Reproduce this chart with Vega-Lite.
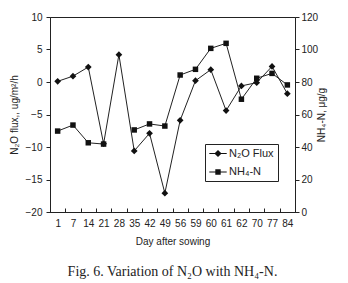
{
  "$schema": "https://vega.github.io/schema/vega-lite/v6.json",
  "width": 245,
  "height": 195,
  "autosize": {"type": "none"},
  "padding": {"left": 50, "top": 17, "right": 53, "bottom": 71},
  "background": "white",
  "config": {
    "font": "Liberation Sans",
    "view": {"stroke": "#222", "strokeWidth": 1},
    "axis": {
      "grid": false,
      "domainColor": "#222",
      "tickColor": "#222",
      "labelColor": "#222",
      "titleColor": "#222",
      "labelFontSize": 10,
      "titleFontSize": 10,
      "titleFontWeight": "normal",
      "labelFont": "Liberation Sans",
      "titleFont": "Liberation Sans"
    }
  },
  "title": {
    "text": "Fig. 6. Variation of N₂O with NH₄-N.",
    "orient": "bottom",
    "anchor": "middle",
    "font": "Liberation Serif",
    "fontSize": 14,
    "fontWeight": "normal",
    "color": "#222",
    "offset": 19
  },
  "data": {
    "values": [
      {"day": 1, "n2o": 0.1, "nh4": 49.8},
      {"day": 7, "n2o": 0.9, "nh4": 53.5},
      {"day": 14, "n2o": 2.3, "nh4": 42.6},
      {"day": 21, "n2o": -9.5, "nh4": 41.8},
      {"day": 28, "n2o": 4.2, "nh4": null},
      {"day": 35, "n2o": -10.6, "nh4": 50.5},
      {"day": 42, "n2o": -7.9, "nh4": 54.2},
      {"day": 49, "n2o": -17.1, "nh4": 52.9},
      {"day": 56, "n2o": -5.9, "nh4": 84.3},
      {"day": 59, "n2o": 0.2, "nh4": 87.8},
      {"day": 60, "n2o": 1.9, "nh4": 100.7},
      {"day": 61, "n2o": -4.4, "nh4": 103.8},
      {"day": 62, "n2o": -0.6, "nh4": 69.4},
      {"day": 70, "n2o": -0.1, "nh4": 82.3},
      {"day": 77, "n2o": 2.4, "nh4": 85.3},
      {"day": 84, "n2o": -1.8, "nh4": 78.2}
    ]
  },
  "encoding": {
    "x": {
      "field": "day",
      "type": "ordinal",
      "scale": {"type": "band", "paddingInner": 0, "paddingOuter": 0},
      "axis": {
        "title": "Day after sowing",
        "labelAngle": 0,
        "tickBand": "extent",
        "tickSize": -4,
        "labelPadding": 10,
        "titlePadding": 8
      }
    }
  },
  "layer": [
    {
      "encoding": {
        "y": {
          "field": "n2o",
          "type": "quantitative",
          "scale": {"domain": [-20, 10], "nice": false, "zero": false},
          "axis": {
            "orient": "left",
            "title": "N₂O flux,, ug/m²/h",
            "values": [-20, -15, -10, -5, 0, 5, 10],
            "labelOverlap": false,
            "tickSize": 4,
            "labelPadding": 4,
            "titlePadding": 6
          }
        }
      },
      "layer": [
        {"mark": {"type": "line", "color": "#222", "strokeWidth": 1}},
        {"mark": {"type": "point", "filled": true, "color": "#111", "opacity": 1, "size": 45, "shape": "diamond"}},
        {
          "mark": {"type": "point", "filled": true, "color": "#111", "opacity": 0, "size": 36},
          "encoding": {
            "shape": {
              "datum": "N₂O Flux",
              "type": "nominal",
              "scale": {
                "domain": ["N₂O Flux", "NH₄-N"],
                "range": [
                  "M-2.9,-0.17L-1.03,-0.17L0,-1.2L1.03,-0.17L2.9,-0.17L2.9,0.17L1.03,0.17L0,1.2L-1.03,0.17L-2.9,0.17Z",
                  "M-2.9,-0.17L-0.9,-0.17L-0.9,-0.9L0.9,-0.9L0.9,-0.17L2.9,-0.17L2.9,0.17L0.9,0.17L0.9,0.9L-0.9,0.9L-0.9,0.17L-2.9,0.17Z"
                ]
              },
              "legend": {
                "title": null,
                "orient": "none",
                "legendX": 155,
                "legendY": 127,
                "strokeColor": "#222",
                "fillColor": "white",
                "padding": 4,
                "symbolOffset": 3.5,
                "labelOffset": 5.5,
                "labelFontSize": 11,
                "labelColor": "#222",
                "rowPadding": 6.5,
                "symbolSize": 36,
                "symbolOpacity": 1,
                "symbolFillColor": "#111",
                "symbolStrokeWidth": 0
              }
            }
          }
        }
      ]
    },
    {
      "encoding": {
        "y": {
          "field": "nh4",
          "type": "quantitative",
          "scale": {"domain": [0, 120], "nice": false},
          "axis": {
            "orient": "right",
            "title": "NH₄-N, μg/g",
            "titleAngle": -90,
            "values": [0, 20, 40, 60, 80, 100, 120],
            "labelOverlap": false,
            "tickSize": 4,
            "labelPadding": 2,
            "titlePadding": 9
          }
        }
      },
      "layer": [
        {"mark": {"type": "line", "color": "#222", "strokeWidth": 1, "invalid": "break-paths-filter-domains"}},
        {
          "transform": [{"filter": "isValid(datum.nh4)"}],
          "mark": {"type": "point", "filled": true, "color": "#111", "opacity": 1, "size": 30, "shape": "square"}
        },
        {
          "transform": [{"filter": "isValid(datum.nh4)"}],
          "mark": {"type": "point", "filled": true, "color": "#111", "opacity": 0, "size": 36},
          "encoding": {"shape": {"datum": "NH₄-N", "type": "nominal"}}
        }
      ]
    }
  ],
  "resolve": {"scale": {"y": "independent"}}
}
